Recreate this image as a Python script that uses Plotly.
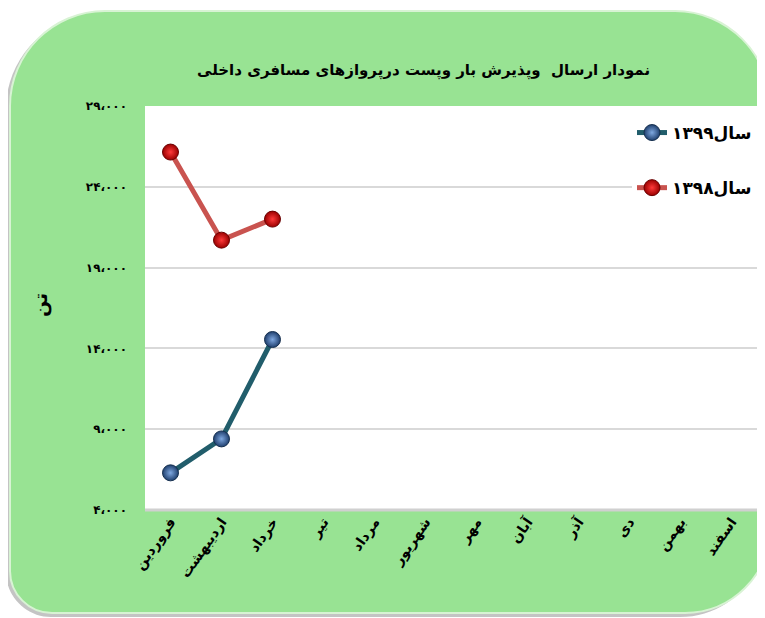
import plotly.graph_objects as go

months = ["فروردین", "اردیبهشت", "خرداد", "تیر", "مرداد", "شهریور",
          "مهر", "آبان", "آذر", "دی", "بهمن", "اسفند"]
y1399 = [6300, 8400, 14550]
y1398 = [26150, 20700, 22000]
ytick_vals = [4000, 9000, 14000, 19000, 24000, 29000]
ytick_text = ["۴،۰۰۰", "۹،۰۰۰", "۱۴،۰۰۰", "۱۹،۰۰۰", "۲۴،۰۰۰", "۲۹،۰۰۰"]
title_text = "نمودار ارسال  وپذیرش بار وپست درپروازهای مسافری داخلی"
y_title = "تن"
names = ["سال۱۳۹۹", "سال۱۳۹۸"]

OFF = 8  # page body margin
W, H = 765 - OFF, 618 - OFF
# plot area in reference pixels: x 145..757, y 106..510
L, R, T, B = 145 - OFF, 765 - 757, 106 - OFF, 618 - 510
pw, ph = W - L - R, H - T - B

def px(x):
    return (x - OFF - L) / pw

def py(y):
    return (H - B - (y - OFF)) / ph

FONT = "DejaVu Sans"

fig = go.Figure()
fig.add_trace(go.Scatter(
    x=months[:len(y1399)], y=y1399, name=f"<b>{names[0]}</b>", mode="lines+markers",
    legendgroup="a",
    line=dict(color="#215d6b", width=5),
    marker=dict(size=16, color="#1f3f6e", line=dict(color="#16304f", width=1),
                gradient=dict(type="radial", color="#7fa8e0")),
))
fig.add_trace(go.Scatter(
    x=months[:len(y1398)], y=y1398, name=f"<b>{names[1]}</b>", mode="lines+markers",
    legendgroup="b",
    line=dict(color="#c9534f", width=5),
    marker=dict(size=16, color="#9a0000", line=dict(color="#6a0000", width=1),
                gradient=dict(type="radial", color="#ff3a3a")),
))

def rounded_path(x0, y0, x1, y1, rtl, rtr, rbr, rbl):
    k = 0.45
    pts = []
    pts.append(f"M {px(x0)},{py(y0 + rtl)}")
    pts.append(f"C {px(x0)},{py(y0 + rtl*k)} {px(x0 + rtl*k)},{py(y0)} {px(x0 + rtl)},{py(y0)}")
    pts.append(f"L {px(x1 - rtr)},{py(y0)}")
    pts.append(f"C {px(x1 - rtr*k)},{py(y0)} {px(x1)},{py(y0 + rtr*k)} {px(x1)},{py(y0 + rtr)}")
    pts.append(f"L {px(x1)},{py(y1 - rbr)}")
    pts.append(f"C {px(x1)},{py(y1 - rbr*k)} {px(x1 - rbr*k)},{py(y1)} {px(x1 - rbr)},{py(y1)}")
    pts.append(f"L {px(x0 + rbl)},{py(y1)}")
    pts.append(f"C {px(x0 + rbl*k)},{py(y1)} {px(x0)},{py(y1 - rbl*k)} {px(x0)},{py(y1 - rbl)}")
    pts.append("Z")
    return " ".join(pts)

shapes = [
    dict(type="path", xref="paper", yref="paper", layer="below",
         path=rounded_path(6, 14, 765, 617, 95, 90, 85, 45),
         fillcolor="#c4c4c4", line=dict(width=0)),
    dict(type="path", xref="paper", yref="paper", layer="below",
         path=rounded_path(10, 11, 770, 613, 95, 95, 85, 42),
         fillcolor="#98e393", line=dict(color="#d8f3d4", width=2)),
    dict(type="rect", xref="paper", yref="paper", layer="below",
         x0=0, x1=1, y0=0, y1=1, fillcolor="white", line=dict(width=0)),
    dict(type="line", xref="paper", yref="paper", layer="above",
         x0=0, x1=1, y0=0, y1=0, line=dict(color="#d0d0d0", width=3)),
]

fig.update_layout(
    width=W, height=H,
    margin=dict(l=L, r=R, t=T, b=B, autoexpand=False),
    paper_bgcolor="white", plot_bgcolor="rgba(0,0,0,0)",
    font=dict(family=FONT, color="black"),
    shapes=shapes,
    showlegend=True,
    legend=dict(x=px(632), y=py(115), xanchor="left", yanchor="top",
                bgcolor="white", borderwidth=0,
                font=dict(family=FONT, size=17, color="black"),
                tracegroupgap=30),
    annotations=[
        dict(text=f"<b>{title_text}</b>", xref="paper", yref="paper",
             x=px(423), y=py(71), xanchor="center", yanchor="middle",
             showarrow=False, font=dict(family=FONT, size=15, color="black")),
        dict(text=f"<b>{y_title}</b>", xref="paper", yref="paper",
             x=px(40), y=py(305), xanchor="center", yanchor="middle",
             textangle=-90, showarrow=False,
             font=dict(family=FONT, size=19, color="black")),
    ],
    hovermode=False,
)
fig.update_xaxes(type="category", categoryorder="array", categoryarray=months,
                 range=[-0.5, 11.5], showgrid=False, zeroline=False,
                 showline=False, ticks="", tickangle=-55,
                 tickfont=dict(family=FONT, size=14, color="black"),
                 tickprefix="<b>", ticksuffix="</b>")
fig.update_yaxes(range=[4000, 29000], tickvals=ytick_vals,
                 ticktext=[f"<b>{t}</b>" for t in ytick_text],
                 showgrid=True, gridcolor="#d9d9d9", gridwidth=2,
                 zeroline=False, showline=False, ticks="",
                 ticklabelstandoff=17,
                 tickfont=dict(family=FONT, size=12, color="black"))

fig.write_html("out.html")
